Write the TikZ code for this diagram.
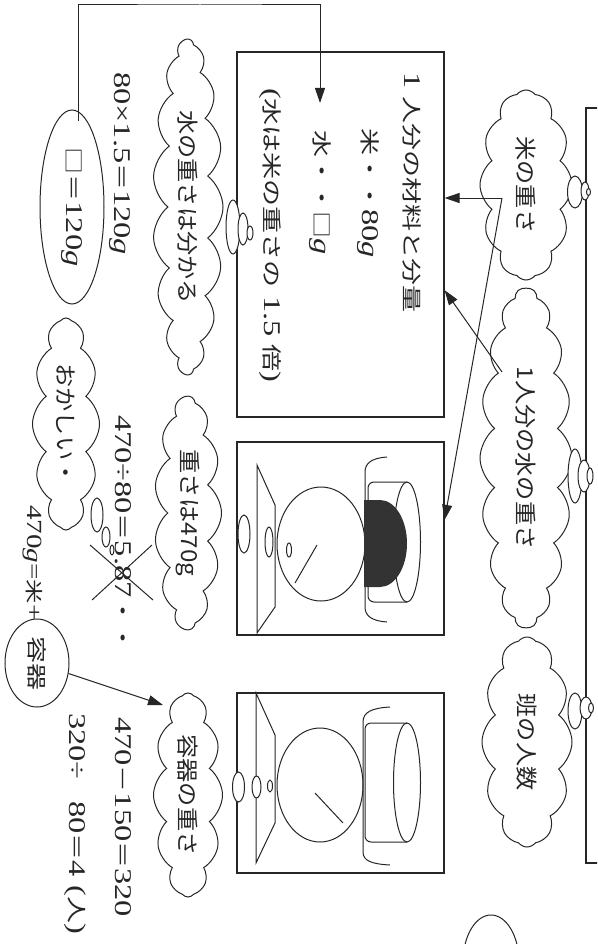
\documentclass[tikz,border=0pt]{standalone}
\usepackage{fontspec}
\setmainfont{Liberation Serif}[FakeStretch=1.35, Scale=1.2]
\newfontfamily\jpb{Noto Sans CJK JP}[FakeStretch=1.35]
\newfontfamily\jpc{Noto Sans CJK JP}[FakeStretch=1.1]
\usetikzlibrary{shapes.symbols,shapes.geometric,arrows.meta,calc}
\newcommand{\jt}[1]{{\jpb #1}}

\begin{document}
\begin{tikzpicture}[x=1pt,y=-1pt,
  ink/.style={draw=black!85, line width=1pt},
  frame/.style={draw=black!85, line width=1.1pt, inner sep=0pt},
  think/.style={cloud, draw=black!85, line width=1pt, rotate=-90,
    cloud puff arc=105, cloud ignores aspect, inner sep=0pt,
    text=black!85, font=\jpc\fontsize{22}{26}\selectfont},
  txt/.style={rotate=-90, inner sep=0pt, anchor=west, text=black!85,
    font=\fontsize{20}{24}\selectfont},
  oval/.style={ellipse, draw=black!85, line width=1pt, rotate=-90,
    inner sep=0pt, text=black!85, font=\fontsize{20}{24}\selectfont},
  bubble/.style={draw=black!85, line width=1pt, fill=white},
  arr/.style={draw=black!85, line width=1pt, -{Triangle[length=15pt,width=10pt]}}
]
\useasboundingbox (0,0) rectangle (597,944);
\clip (0,0) rectangle (597,944);

% header frame along the right edge
\node[frame, minimum width=60pt, minimum height=755pt] (title) at (616,485.5) {};

% thought clouds on the right
\node[think, cloud puffs=12, minimum width=190pt, minimum height=92pt] (rice) at (526,185) {米の重さ};
\node[think, cloud puffs=18, minimum width=340pt, minimum height=92pt] (perw) at (526,458) {1人分の水の重さ};
\node[think, cloud puffs=12, minimum width=210pt, minimum height=90pt] (han) at (527,742) {班の人数};

% bubble chains towards the header frame
\foreach \cx/\cy/\rx/\ry in {575/192/7.5/16, 585/191/4/9, 588.5/192/2/3.5,
  575/476/7/27, 584/476/6/16, 590/476/3/8,
  575/711/7/18, 586/708/6/11, 591/708/2.5/5}
  \draw[bubble] (\cx,\cy) ellipse[x radius=\rx, y radius=\ry];

% ingredient box
\node[frame, minimum width=207pt, minimum height=365pt] (box1) at (340.5,234.5) {};
\node[txt] (head) at (412,72) {1 \jt{人分の材料と分量}};
\node[txt] (rl) at (368,128) {\jt{米・・}80\textit{g}};
\node[txt] (wtr) at (320,130) {\jt{水・・□}\textit{g}};
\node[txt] (note) at (270,88) {(\jt{水は米の重さの} 1.5 \jt{倍})};

% scale boxes
\node[frame, minimum width=207pt, minimum height=193pt] (sc1) at (340.5,538.5) {};
\node[frame, minimum width=207pt, minimum height=180pt] (sc2) at (340.5,783) {};

% scale 1: platform, dial, pan with rice
\draw[ink] (257,465) -- (275,505) -- (275,607) -- (257,633) -- cycle;
\draw[ink] (321,544) ellipse[x radius=44, y radius=57];
\draw[ink] (317,545) -- (295,583);
\draw[ink] (387,457) .. controls (372,458) and (365,463) .. (365,472) -- (365,607)
  .. controls (365,616) and (372,621) .. (387,622);
\draw[ink, rounded corners=6pt] (407,482) -- (368,482) -- (368,602) -- (407,602);
\draw[ink] (407,542) ellipse[x radius=13.5, y radius=60];
\fill[black!80] (364,500) -- (380,500) arc[start angle=-90, end angle=90, x radius=27, y radius=43.5] -- (364,587) -- cycle;
\foreach \cx/\cy/\rx/\ry in {244/534/6/19, 269/542/4/15, 289/550/2.5/7}
  \draw[bubble] (\cx,\cy) ellipse[x radius=\rx, y radius=\ry];

% scale 2: platform, dial, empty pan
\draw[ink] (256,693) -- (275,735) -- (275,823) -- (256,863) -- cycle;
\draw[ink] (320,785) ellipse[x radius=43, y radius=57];
\draw[ink] (315,793) -- (343,823);
\draw[ink] (390,707) .. controls (372,708) and (363,712) .. (363,722) -- (363,852)
  .. controls (363,861) and (372,864) .. (390,865);
\draw[ink, rounded corners=6pt] (407,723) -- (365,723) -- (365,842) -- (407,842);
\draw[ink] (407,782.5) ellipse[x radius=13.5, y radius=59.5];
\foreach \cx/\cy/\rx/\ry in {238.5/787/6/15, 256.5/787/4.5/11, 270/786/2.5/6}
  \draw[bubble] (\cx,\cy) ellipse[x radius=\rx, y radius=\ry];

% arrows from the clouds
\coordinate (riceSrc) at (502,198);
\coordinate (perwSrc) at (502,372);
\draw[arr] (riceSrc) -- (riceSrc -| box1.east);
\draw[arr] (riceSrc) -- ($(sc1.north east)!0.404!(sc1.south east)$);
\draw[arr] (perwSrc) -- ($(box1.north east)!0.652!(box1.south east)$);

% left column: clouds
\node[think, cloud puffs=17, minimum width=335pt, minimum height=70pt] (wknow) at (188,207) {水の重さは分かる};
\node[think, cloud puffs=13, minimum width=233pt, minimum height=67pt] (w470) at (188,513) {重さは470g};
\node[think, cloud puffs=12, minimum width=212pt, minimum height=67pt] (odd) at (66,424) {おかしい・};
\node[think, cloud puffs=12, minimum width=204pt, minimum height=69pt] (yoki) at (188,795) {容器の重さ};
\foreach \cx/\cy/\rx/\ry in {233/227/7/27, 243/229/5/16, 250/233/3/7,
  97/515/6/17, 106/537/4/10, 112/550/2/5}
  \draw[bubble] (\cx,\cy) ellipse[x radius=\rx, y radius=\ry];

% calculations
\node[txt] (c1) at (120,72) {80×1.5\jt{＝}120\textit{g}};
\node[oval, minimum width=194pt, minimum height=64pt] (ans) at (72,207) {\jt{□＝}120\textit{g}};
\node[txt] (c2) at (123,415) {470÷80\jt{＝}5.87\jt{・・}};
\draw[ink] (90,545) -- (153,600);
\draw[ink] (152,545) -- (92,600);
\node[txt, font=\fontsize{18}{22}\selectfont] (c3) at (33,505) {470\textit{g}=\jt{米}+};
\node[oval, minimum width=88pt, minimum height=64pt] (box) at (37,663) {\jt{容器}};
\node[txt] (c4) at (123,717) {470\jt{－}150\jt{＝}320};
\node[txt] (c5) at (75,713) {320÷\hspace{22pt}80\jt{＝}4 (\jt{人})};

% answer routed back to the water line
\coordinate (topRun) at (200,5);
\draw[arr] ([xshift=6pt,yshift=-12pt]ans.west) |- (topRun) -| ([yshift=27pt]wtr.west);

% container circle points at its cloud
\coordinate (yokiIn) at (163,705);
\draw[arr] (box) -- (yokiIn);

% partly visible oval at the lower edge
\draw[ink] (491,962) ellipse[x radius=28, y radius=47];
\end{tikzpicture}
\end{document}
